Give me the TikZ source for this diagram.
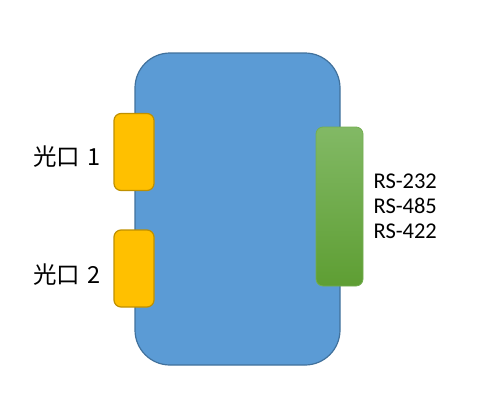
\documentclass[tikz,border=0pt]{standalone}
\usepackage{fontspec}
\setmainfont{Carlito}
\newfontfamily\cjk{Noto Sans CJK SC}
\usetikzlibrary{positioning}
\definecolor{bodyblue}{HTML}{5B9BD5}
\definecolor{bodyline}{HTML}{41719C}
\definecolor{portyellow}{HTML}{FFC000}
\definecolor{portline}{HTML}{BF9000}
\definecolor{sertop}{HTML}{82B965}
\definecolor{serbot}{HTML}{5E9E33}
\begin{document}
\begin{tikzpicture}[x=1pt, y=-1pt, node distance=13pt, box/.style={draw, line width=1.2pt, inner sep=0pt}, port/.style={box, fill=portyellow, draw=portline, minimum width=40pt, minimum height=77pt, rounded corners=7pt}, label/.style={inner sep=0pt, font=\cjk\fontsize{23.5}{28}\selectfont}]
	\useasboundingbox (0,0) rectangle (493,413);
	\node[box, fill=bodyblue, draw=bodyline, minimum width=205pt, minimum height=312pt, rounded corners=35pt] (body) at (237.5,209){};
	\node[port] (P1) at (134,152){};
	\node[port] (P2) at (134,268.5){};
	\node[box, draw=sertop!60!serbot, line width=0.8pt, top color=sertop, bottom color=serbot, minimum width=47pt, minimum height=159pt, rounded corners=7pt] (S) at (339.5,206.5){};
	\node[label] (L1) [left= of P1, yshift=-5pt]{光口\hspace{0.3em}1};
	\node[label] (L2) [left= of P2, yshift=-6pt]{光口\hspace{0.3em}2};
	\node[inner sep=0pt, align=left, font=\fontsize{22.5}{25}\selectfont] (R) [right=10pt of S, yshift=0pt]{RS-232\\RS-485\\RS-422};
\end{tikzpicture}
\end{document}
